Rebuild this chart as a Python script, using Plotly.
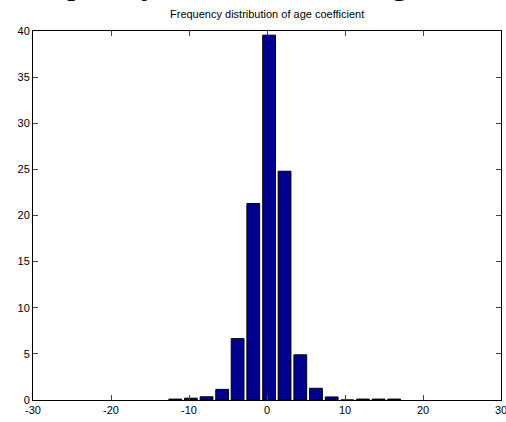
import plotly.graph_objects as go

bin_centers = [-11.76, -9.76, -7.75, -5.75, -3.77, -1.76, 0.27, 2.25, 4.27, 6.28, 8.29, 10.3, 12.3, 14.3, 16.3]
frequencies = [0.1, 0.2, 0.35, 1.15, 6.65, 21.3, 39.55, 24.8, 4.9, 1.27, 0.33, 0.0, 0.1, 0.1, 0.1]
x_ticks = [-30, -20, -10, 0, 10, 20, 30]
x_tick_labels = ["-30", "-20", "-10", "0", "10", "20", "30"]
y_ticks = [0, 5, 10, 15, 20, 25, 30, 35, 40]
title_text = "Frequency distribution of age coefficient"
caption_text = "Frequency distribution of age coefficient"

fig = go.Figure()
fig.add_trace(go.Bar(
    x=bin_centers, y=frequencies, width=1.64,
    marker=dict(color="rgb(0,0,143)", line=dict(color="black", width=1)),
))

fig.update_layout(
    width=506, height=422,
    margin=dict(l=33, r=5, t=31, b=22, autoexpand=False),
    paper_bgcolor="white", plot_bgcolor="white",
    showlegend=False,
    font=dict(family="Liberation Sans, Arial", size=11, color="black"),
    annotations=[
        dict(text=title_text, xref="paper", yref="paper", x=0.5, y=1.0,
             yshift=17, xanchor="center", yanchor="middle", showarrow=False,
             font=dict(family="Liberation Sans, Arial", size=11, color="black")),
        dict(text=caption_text, xref="paper", yref="paper", x=0.0, y=1.0,
             xshift=-24, yshift=50, xanchor="left", yanchor="middle", showarrow=False,
             font=dict(family="Liberation Serif, Times New Roman", size=35, color="black")),
    ],
)
fig.update_xaxes(range=[-30, 30], tickvals=x_ticks, ticktext=x_tick_labels,
                 ticks="inside", ticklen=5,
                 showline=True, linecolor="black", linewidth=1, mirror="ticks",
                 showgrid=False, zeroline=False, tickfont=dict(size=11),
                 ticklabeloverflow="allow", ticklabelstandoff=0, automargin=False)
fig.update_yaxes(range=[0, 40], tickvals=y_ticks, ticks="inside", ticklen=5,
                 showline=True, linecolor="black", linewidth=1, mirror="ticks",
                 showgrid=False, zeroline=False, tickfont=dict(size=11), automargin=False)

fig.write_html("out.html", config={"displayModeBar": False},
               post_script="document.body.style.margin='0';")
